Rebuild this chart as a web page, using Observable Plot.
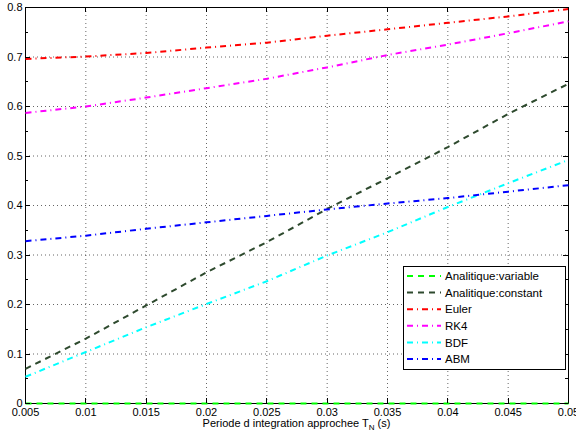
<!DOCTYPE html>
<html>
<head>
<meta charset="utf-8">
<script src="https://cdn.jsdelivr.net/npm/d3@7"></script>
<script src="https://cdn.jsdelivr.net/npm/@observablehq/plot@0.6"></script>
<style>
  html, body { margin: 0; padding: 0; background: #fff; }
  #chart { position: relative; width: 576px; height: 434px; }
</style>
</head>
<body>
<div id="chart"></div>
<script>
// ---- data ----
const periods = [0.005, 0.01, 0.015, 0.02, 0.025, 0.03, 0.035, 0.04, 0.045, 0.05];
const analitiqueVariable = [0, 0, 0, 0, 0, 0, 0, 0, 0, 0];
const analitiqueConstant = [0.070, 0.131, 0.198, 0.265, 0.326, 0.393, 0.455, 0.518, 0.585, 0.646];
const euler = [0.696, 0.701, 0.708, 0.719, 0.729, 0.743, 0.756, 0.769, 0.782, 0.797];
const rk4 = [0.587, 0.600, 0.618, 0.637, 0.656, 0.679, 0.704, 0.725, 0.748, 0.772];
const bdf = [0.054, 0.104, 0.154, 0.201, 0.247, 0.299, 0.346, 0.397, 0.445, 0.492];
const abm = [0.328, 0.339, 0.353, 0.366, 0.379, 0.392, 0.404, 0.415, 0.428, 0.441];

const seriesNames = ["Analitique:variable", "Analitique:constant", "Euler", "RK4", "BDF", "ABM"];
const seriesValues = [analitiqueVariable, analitiqueConstant, euler, rk4, bdf, abm];
const seriesColors = ["#00ff00", "#2e4a2e", "#ff0000", "#ff00ff", "#00ffff", "#0000ff"];
const seriesDash = ["6,5", "6,5", "6,4,1,4", "6,4,1,4", "6,4,1,4", "6,4,1,4"];

const xTicks = [0.005, 0.01, 0.015, 0.02, 0.025, 0.03, 0.035, 0.04, 0.045, 0.05];
const xTickLabels = ["0.005", "0.01", "0.015", "0.02", "0.025", "0.03", "0.035", "0.04", "0.045", "0.05"];
const yTicks = [0, 0.1, 0.2, 0.3, 0.4, 0.5, 0.6, 0.7, 0.8];
const yTickLabels = ["0", "0.1", "0.2", "0.3", "0.4", "0.5", "0.6", "0.7", "0.8"];
const yMinorTicks = [0.05, 0.15, 0.25, 0.35, 0.45, 0.55, 0.65, 0.75];
const xLabelMain = "Periode d integration approchee T";
const xLabelSub = "N";
const xLabelEnd = " (s)";

(function () {
// tidy table
const rows = seriesNames.flatMap((name, s) =>
  periods.map((p, i) => ({series: name, x: p, y: seriesValues[s][i]})));

const FONT = "'Liberation Sans', Arial, Helvetica, sans-serif";

const lineMarks = seriesNames.map((name, s) =>
  Plot.line(rows.filter(r => r.series === name), {
    x: "x", y: "y",
    stroke: seriesColors[s],
    strokeWidth: 2,
    strokeDasharray: seriesDash[s],
    strokeLinecap: "butt"
  }));

const chart = Plot.plot({
  width: 576,
  height: 434,
  marginLeft: 25,
  marginRight: 8,
  marginTop: 7,
  marginBottom: 31,
  style: {fontFamily: FONT, fontSize: "11px", color: "#000", background: "#fff"},
  x: {domain: [0.005, 0.05]},
  y: {domain: [0, 0.8]},
  marks: [
    Plot.gridX(xTicks, {stroke: "#000", strokeOpacity: 0.6, strokeDasharray: "1,3"}),
    Plot.gridY(yTicks, {stroke: "#000", strokeOpacity: 0.6, strokeDasharray: "1,3"}),
    Plot.frame({stroke: "#000", strokeWidth: 1}),
    Plot.axisX(xTicks, {tickSize: 0, tickPadding: 5, fontSize: 11,
      tickFormat: d => xTickLabels[xTicks.indexOf(d)], label: null}),
    Plot.axisY(yTicks, {tickSize: 0, tickPadding: 3, fontSize: 11,
      tickFormat: d => yTickLabels[yTicks.indexOf(d)], label: null}),
    ...lineMarks.slice(1),
    lineMarks[0]
  ]
});

document.getElementById("chart").appendChild(chart);

// inward ticks on all four sides, positioned with Plot's scales
const sx = chart.scale("x"), sy = chart.scale("y");
const X = v => sx.apply(v), Y = v => sy.apply(v);
const svg = d3.select(chart);
const pLeft = X(0.005), pRight = X(0.05), pTop = Y(0.8), pBottom = Y(0);
const tg = svg.append("g").attr("stroke", "#000").attr("stroke-width", 1);
const major = 5, minor = 3;
xTicks.forEach(v => {
  const x = Math.round(X(v)) + 0.5;
  tg.append("line").attr("x1", x).attr("x2", x).attr("y1", pBottom).attr("y2", pBottom - major);
  tg.append("line").attr("x1", x).attr("x2", x).attr("y1", pTop).attr("y2", pTop + major);
});
yTicks.forEach(v => {
  const y = Math.round(Y(v)) + 0.5;
  tg.append("line").attr("y1", y).attr("y2", y).attr("x1", pLeft).attr("x2", pLeft + major);
  tg.append("line").attr("y1", y).attr("y2", y).attr("x1", pRight).attr("x2", pRight - major);
});
yMinorTicks.forEach(v => {
  const y = Math.round(Y(v)) + 0.5;
  tg.append("line").attr("y1", y).attr("y2", y).attr("x1", pLeft).attr("x2", pLeft + minor);
  tg.append("line").attr("y1", y).attr("y2", y).attr("x1", pRight).attr("x2", pRight - minor);
});

// x-axis label with subscript
const lab = svg.append("text")
  .attr("x", (pLeft + pRight) / 2)
  .attr("y", 427)
  .attr("text-anchor", "middle")
  .attr("font-family", FONT)
  .attr("font-size", 11)
  .attr("fill", "#000");
lab.append("tspan").text(xLabelMain);
lab.append("tspan").attr("font-size", 8).attr("dy", 3).text(xLabelSub);
lab.append("tspan").attr("dy", -3).text(xLabelEnd);

// legend inside the plot area
const lg = svg.append("g").attr("text-anchor", "start");
const lx0 = 403, ly0 = 266, lw = 162, lh = 103;
lg.append("rect").attr("x", lx0 + 0.5).attr("y", ly0 + 0.5).attr("width", lw).attr("height", lh)
  .attr("fill", "#fff").attr("stroke", "#000").attr("stroke-width", 1);
seriesNames.forEach((name, s) => {
  const cy = ly0 + 10 + s * 16.6;
  lg.append("line").attr("x1", lx0 + 4).attr("x2", lx0 + 38).attr("y1", cy).attr("y2", cy)
    .attr("stroke", seriesColors[s]).attr("stroke-width", 2)
    .attr("stroke-dasharray", seriesDash[s]);
  lg.append("text").attr("x", lx0 + 42).attr("y", cy).attr("dy", "0.36em")
    .attr("text-anchor", "start")
    .attr("font-family", FONT).attr("font-size", 11.5).attr("fill", "#000").text(name);
});
})();
</script>
</body>
</html>
